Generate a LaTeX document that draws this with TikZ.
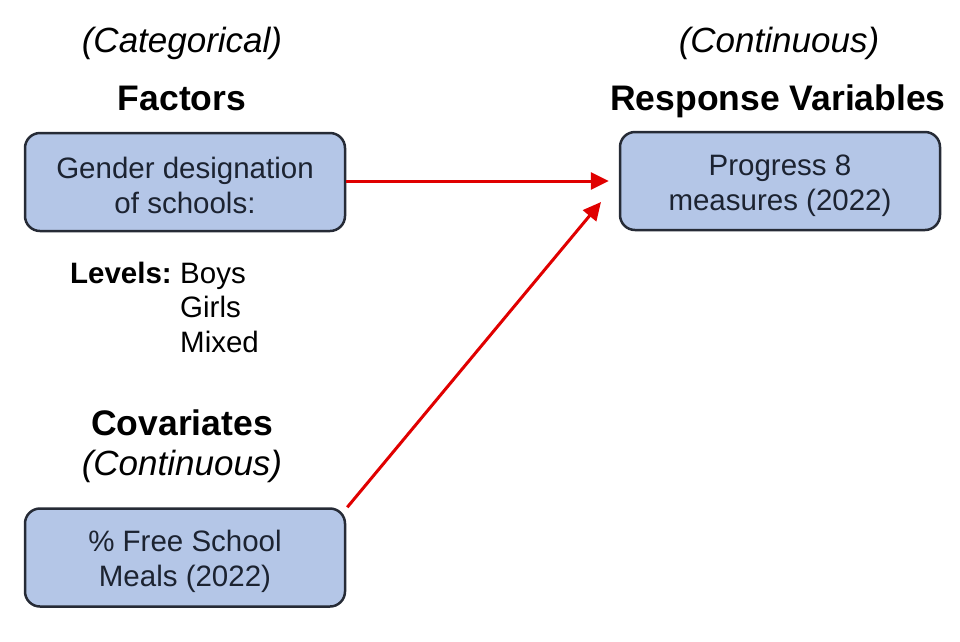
\documentclass[tikz,border=0pt]{standalone}
\usepackage{fontspec}
\setmainfont{Liberation Sans}
\usetikzlibrary{arrows.meta}
\definecolor{boxfill}{HTML}{B4C6E7}
\definecolor{boxdraw}{HTML}{262B36}
\definecolor{boxtext}{HTML}{1C2331}
\definecolor{arrowred}{HTML}{E00000}
\newcommand{\bxtop}{\rule{0pt}{30pt}}
\newcommand{\bxbot}{\rule[-3pt]{0pt}{3pt}}
\tikzset{
  varbox/.style={draw=boxdraw, line width=2.5pt, fill=boxfill, rounded corners=15pt,
    minimum width=320pt, minimum height=98pt, inner sep=0pt, align=center,
    text=boxtext, font=\fontsize{29.5pt}{35pt}\selectfont},
  heading/.style={anchor=base, inner sep=0pt, font=\fontsize{35.5pt}{40pt}\selectfont\bfseries},
  subhead/.style={anchor=base, inner sep=0pt, font=\fontsize{35pt}{40pt}\selectfont\itshape},
  lvl/.style={anchor=base west, inner sep=0pt, font=\fontsize{29.5pt}{35pt}\selectfont},
  link/.style={draw=arrowred, line width=3pt, -{Triangle[length=18pt,width=17pt]}}
}
\begin{document}
\begin{tikzpicture}[x=1pt,y=-1pt]
\useasboundingbox (0,0) rectangle (960,641);
\node[subhead] (cat) at (182,52) {(Categorical)};
\node[heading] (fac) at (182,110) {Factors};
\node[subhead] (cont1) at (779,52) {(Continuous)};
\node[heading] (resp) at (778,110) {Response Variables};
\node[varbox] (gender) at (185,182) {\bxtop Gender designation\\of schools:\bxbot};
\node[varbox] (prog) at (780,181) {\bxtop Progress 8\\measures (2022)\bxbot};
\node[varbox] (fsm) at (185,557.5) {\bxtop\% Free School\\Meals (2022)\bxbot};
\node[lvl, anchor=base east, font=\fontsize{29.5pt}{35pt}\selectfont\bfseries] (levels) at (172,283) {Levels:};
\node[lvl] (boys) at (180,283) {Boys};
\node[lvl] (girls) at (180,317) {Girls};
\node[lvl] (mixed) at (180,352) {Mixed};
\node[heading] (cov) at (182,435) {Covariates};
\node[subhead] (cont2) at (182,475) {(Continuous)};
\coordinate (tip2) at (601,202);
\draw[link, shorten >=10pt] (gender.east |- prog.west) -- (prog.west);
\draw[link] ([xshift=1pt]fsm.north east) -- (tip2);
\end{tikzpicture}
\end{document}
